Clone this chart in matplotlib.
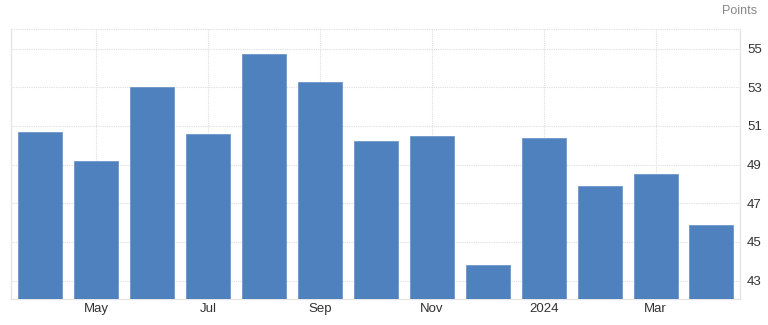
import matplotlib
matplotlib.use("Agg")
import matplotlib.pyplot as plt
import numpy as np

months = ["Apr", "May", "Jun", "Jul", "Aug", "Sep", "Oct", "Nov", "Dec", "2024", "Feb", "Mar", "Apr"]
values = [50.7, 49.2, 53.0, 50.6, 54.7, 53.3, 50.2, 50.5, 43.8, 50.4, 47.9, 48.5, 45.9]
tick_labels = ["May", "Jul", "Sep", "Nov", "2024", "Mar"]
tick_idx = [1, 3, 5, 7, 9, 11]
y_ticks = [43, 45, 47, 49, 51, 53, 55]

plt.rcParams['font.family'] = ['Liberation Sans', 'DejaVu Sans']

fig = plt.figure(figsize=(7.68, 3.25), dpi=100)
ax = fig.add_axes([0.0147, 0.079, 0.9488, 0.8308])

x = np.arange(len(values))
ax.bar(x, values, width=0.787, color="#4E81BD", edgecolor="#6f97c8", linewidth=0.6, zorder=3)

ax.set_xlim(-0.52, 12.51)
ax.set_ylim(42.03, 56.0)

ax.set_xticks(tick_idx)
ax.set_xticklabels(tick_labels)
ax.set_yticks(y_ticks)
ax.yaxis.tick_right()
ax.tick_params(axis='both', length=0, labelsize=9.5, colors="#333333")
ax.tick_params(axis='y', pad=5)
ax.tick_params(axis='x', pad=2.5)

ax.grid(True, color="#dedede", linestyle=(0, (1, 1)), linewidth=0.8, zorder=0)
ax.axhline(56.0, color="#dedede", linestyle=(0, (1, 1)), linewidth=0.8, zorder=0, clip_on=False)

for s in ["left", "bottom", "right"]:
    ax.spines[s].set_color("#e6e6e6")
    ax.spines[s].set_linewidth(1.0)
ax.spines["top"].set_visible(False)

fig.text(0.986, 0.965, "Points", ha="right", va="center", fontsize=9, color="#888888")

fig.savefig("out.png", dpi=100)
